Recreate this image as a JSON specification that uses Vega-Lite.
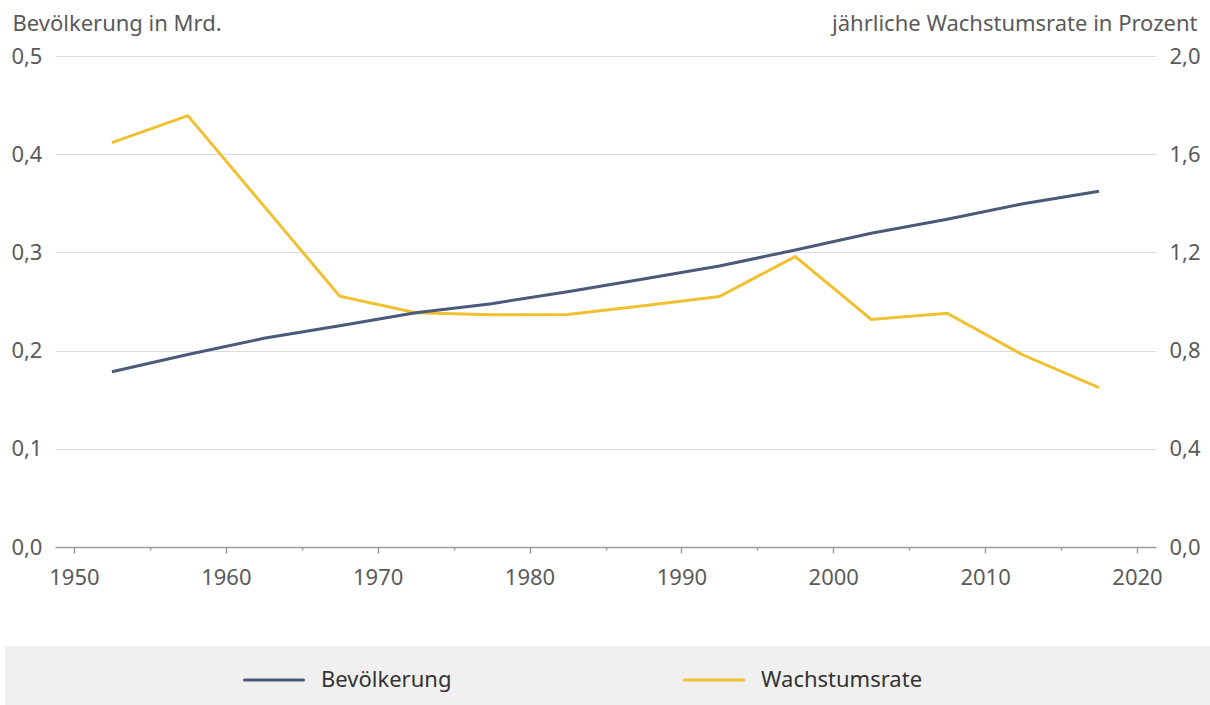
{
  "$schema": "https://vega.github.io/schema/vega-lite/v6.json",
  "padding": {"left": 5, "top": 12, "right": 0, "bottom": 0},
  "background": "white",
  "config": {
    "font": "Noto Sans",
    "view": {"stroke": null},
    "axis": {
      "labelFont": "Noto Sans",
      "titleFont": "Noto Sans",
      "labelFontSize": 22,
      "titleFontSize": 22,
      "labelColor": "#5a5a5a",
      "titleColor": "#5a5a5a",
      "titleFontWeight": "normal"
    }
  },
  "datasets": {
    "pop": [
      {"year": 1952.5, "series": "Bevölkerung", "value": 0.1785},
      {"year": 1957.5, "series": "Bevölkerung", "value": 0.196},
      {"year": 1962.5, "series": "Bevölkerung", "value": 0.2125},
      {"year": 1967.5, "series": "Bevölkerung", "value": 0.2254},
      {"year": 1972.5, "series": "Bevölkerung", "value": 0.2386},
      {"year": 1977.5, "series": "Bevölkerung", "value": 0.2478},
      {"year": 1982.5, "series": "Bevölkerung", "value": 0.26},
      {"year": 1987.5, "series": "Bevölkerung", "value": 0.2729},
      {"year": 1992.5, "series": "Bevölkerung", "value": 0.2862},
      {"year": 1997.5, "series": "Bevölkerung", "value": 0.3024},
      {"year": 2002.5, "series": "Bevölkerung", "value": 0.3195},
      {"year": 2007.5, "series": "Bevölkerung", "value": 0.3337},
      {"year": 2012.5, "series": "Bevölkerung", "value": 0.3496},
      {"year": 2017.5, "series": "Bevölkerung", "value": 0.3622},
      {"year": 1952.5, "series": "Wachstumsrate", "value": 1.647},
      {"year": 1957.5, "series": "Wachstumsrate", "value": 1.757},
      {"year": 1967.5, "series": "Wachstumsrate", "value": 1.022},
      {"year": 1972.5, "series": "Wachstumsrate", "value": 0.954},
      {"year": 1977.5, "series": "Wachstumsrate", "value": 0.946},
      {"year": 1982.5, "series": "Wachstumsrate", "value": 0.947},
      {"year": 1987.5, "series": "Wachstumsrate", "value": 0.983},
      {"year": 1992.5, "series": "Wachstumsrate", "value": 1.02},
      {"year": 1997.5, "series": "Wachstumsrate", "value": 1.183},
      {"year": 2002.5, "series": "Wachstumsrate", "value": 0.927},
      {"year": 2007.5, "series": "Wachstumsrate", "value": 0.952},
      {"year": 2012.5, "series": "Wachstumsrate", "value": 0.782},
      {"year": 2017.5, "series": "Wachstumsrate", "value": 0.649}
    ]
  },
  "spacing": 58,
  "center": true,
  "vconcat": [
    {
      "width": 1101,
      "height": 491,
      "data": {"name": "pop"},
      "encoding": {
        "x": {
          "field": "year",
          "type": "quantitative",
          "scale": {"domain": [1948.75, 2021.25], "nice": false, "zero": false},
          "axis": {
            "title": null,
            "grid": false,
            "values": [1950, 1955, 1960, 1965, 1970, 1975, 1980, 1985, 1990, 1995, 2000, 2005, 2010, 2015, 2020],
            "format": "d",
            "labelExpr": "datum.value % 10 === 0 ? datum.label : ''",
            "tickSize": {"condition": {"test": "datum.value % 10 === 0", "value": 6}, "value": 3},
            "tickColor": "#9a9a9a",
            "tickWidth": 1.5,
            "domainColor": "#9a9a9a",
            "domainWidth": 1.5,
            "labelPadding": 14,
            "labelFlush": false,
            "labelOverlap": false,
            "zindex": 1
          }
        }
      },
      "layer": [
        {
          "transform": [{"filter": "datum.series === 'Wachstumsrate'"}],
          "mark": {"type": "line", "strokeWidth": 3, "color": "#f0c030"},
          "encoding": {
            "y": {
              "field": "value",
              "type": "quantitative",
              "scale": {"domain": [0, 2], "nice": false},
              "axis": {
                "orient": "right",
                "values": [0, 0.4, 0.8, 1.2, 1.6, 2.0],
                "labelExpr": "replace(format(datum.value, '.1f'), '.', ',')",
                "grid": false,
                "domain": false,
                "ticks": false,
                "labelPadding": 13,
                "title": "jährliche Wachstumsrate in Prozent",
                "titleAngle": 0,
                "titleAlign": "right",
                "titleBaseline": "alphabetic",
                "titleX": 41,
                "titleY": -26
              }
            }
          }
        },
        {
          "transform": [{"filter": "datum.series === 'Bevölkerung'"}],
          "mark": {"type": "line", "strokeWidth": 3, "color": "#4a5a78"},
          "encoding": {
            "y": {
              "field": "value",
              "type": "quantitative",
              "scale": {"domain": [0, 0.5], "nice": false},
              "axis": {
                "orient": "left",
                "values": [0, 0.1, 0.2, 0.3, 0.4, 0.5],
                "labelExpr": "replace(format(datum.value, '.1f'), '.', ',')",
                "grid": true,
                "gridColor": "#dcdcdc",
                "gridWidth": 1,
                "domain": false,
                "ticks": false,
                "labelPadding": 13,
                "title": "Bevölkerung in Mrd.",
                "titleAngle": 0,
                "titleAlign": "left",
                "titleBaseline": "alphabetic",
                "titleX": -43,
                "titleY": -26
              }
            }
          }
        }
      ],
      "resolve": {"scale": {"y": "independent"}}
    },
    {
      "width": 1245,
      "height": 68,
      "view": {"fill": "#f0f0f0", "stroke": null},
      "data": {"name": "pop"},
      "transform": [{"aggregate": [{"op": "count", "as": "n"}], "groupby": ["series"]}],
      "encoding": {
        "x": {
          "field": "series",
          "type": "nominal",
          "scale": {"type": "point", "padding": 0.9148, "align": 0.3342},
          "axis": null
        }
      },
      "layer": [
        {
          "mark": {"type": "point", "shape": "stroke", "size": 3481, "strokeWidth": 3, "strokeCap": "round", "opacity": 1, "filled": false},
          "encoding": {
            "stroke": {
              "field": "series",
              "type": "nominal",
              "scale": {"domain": ["Bevölkerung", "Wachstumsrate"], "range": ["#4a5a78", "#f0c030"]},
              "legend": null
            }
          }
        },
        {
          "mark": {"type": "text", "align": "left", "baseline": "middle", "dx": 47, "fontSize": 22, "font": "Noto Sans", "color": "#333333"},
          "encoding": {"text": {"field": "series"}}
        }
      ]
    }
  ]
}
